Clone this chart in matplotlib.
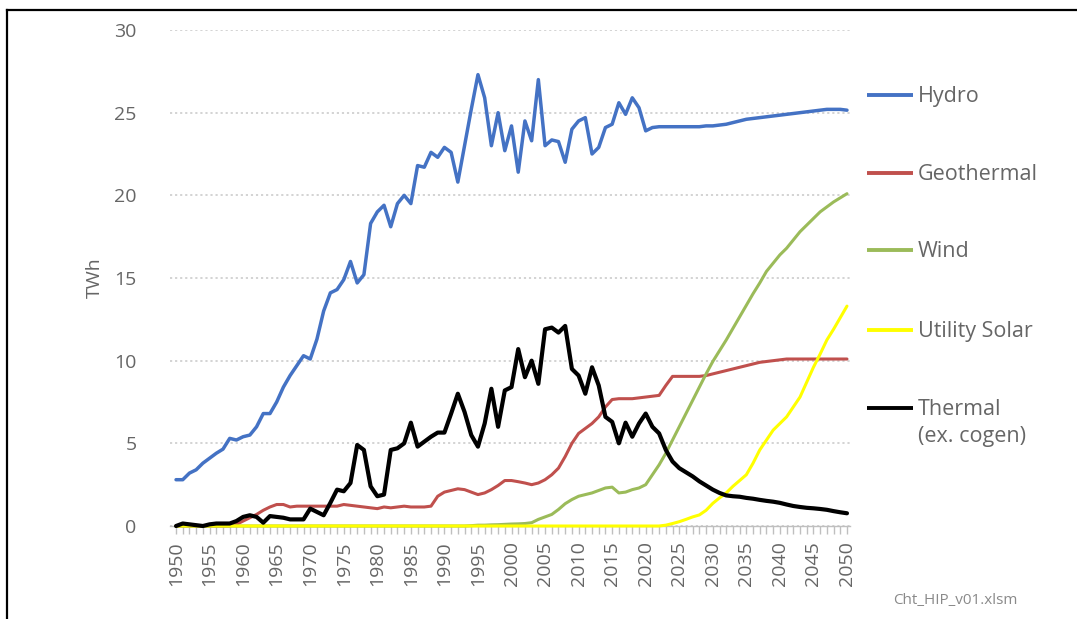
import matplotlib
matplotlib.use("Agg")
import matplotlib.pyplot as plt
from matplotlib.lines import Line2D
from matplotlib.ticker import MultipleLocator

plt.rcParams["font.family"] = ["Open Sans", "DejaVu Sans"]

# Annual generation, TWh, 1950-2050
years = list(range(1950, 2051))

hydro = [
    2.8, 2.8, 3.2, 3.4, 3.8, 4.1, 4.4, 4.65, 5.3, 5.2,            # 1950s
    5.4, 5.5, 6.0, 6.8, 6.8, 7.5, 8.4, 9.1, 9.7, 10.3,            # 1960s
    10.1, 11.3, 13.0, 14.1, 14.3, 14.9, 16.0, 14.7, 15.2, 18.3,   # 1970s
    19.0, 19.4, 18.1, 19.5, 20.0, 19.5, 21.8, 21.7, 22.6, 22.3,   # 1980s
    22.9, 22.6, 20.8, 23.0, 25.2, 27.3, 25.9, 23.0, 25.0, 22.7,   # 1990s
    24.2, 21.4, 24.5, 23.3, 27.0, 23.0, 23.35, 23.25, 22.0, 24.0, # 2000s
    24.5, 24.7, 22.5, 22.9, 24.1, 24.3, 25.6, 24.9, 25.9, 25.3,   # 2010s
    23.9, 24.1, 24.15, 24.15, 24.15, 24.15, 24.15, 24.15, 24.15, 24.2,  # 2020s
    24.2, 24.25, 24.3, 24.4, 24.5, 24.6, 24.65, 24.7, 24.75, 24.8,      # 2030s
    24.85, 24.9, 24.95, 25.0, 25.05, 25.1, 25.15, 25.2, 25.2, 25.2,     # 2040s
    25.15,                                                               # 2050
]

geothermal = [
    0.0, 0.0, 0.0, 0.0, 0.0, 0.0, 0.0, 0.0, 0.0, 0.1,
    0.3, 0.5, 0.7, 0.95, 1.15, 1.3, 1.3, 1.15, 1.2, 1.2,
    1.2, 1.2, 1.2, 1.2, 1.2, 1.3, 1.25, 1.2, 1.15, 1.1,
    1.05, 1.15, 1.1, 1.15, 1.2, 1.15, 1.15, 1.15, 1.2, 1.8,
    2.05, 2.15, 2.25, 2.2, 2.05, 1.9, 2.0, 2.2, 2.45, 2.75,
    2.75, 2.68, 2.6, 2.5, 2.6, 2.8, 3.1, 3.5, 4.2, 5.0,
    5.6, 5.9, 6.2, 6.6, 7.2, 7.65, 7.7, 7.7, 7.7, 7.75,
    7.8, 7.85, 7.9, 8.5, 9.05, 9.05, 9.05, 9.05, 9.05, 9.1,
    9.2, 9.3, 9.4, 9.5, 9.6, 9.7, 9.8, 9.9, 9.95, 10.0,
    10.05, 10.1, 10.1, 10.1, 10.1, 10.1, 10.1, 10.1, 10.1, 10.1,
    10.1,
]

wind = [
    0.0, 0.0, 0.0, 0.0, 0.0, 0.0, 0.0, 0.0, 0.0, 0.0,
    0.0, 0.0, 0.0, 0.0, 0.0, 0.0, 0.0, 0.0, 0.0, 0.0,
    0.0, 0.0, 0.0, 0.0, 0.0, 0.0, 0.0, 0.0, 0.0, 0.0,
    0.0, 0.0, 0.0, 0.0, 0.0, 0.0, 0.0, 0.0, 0.0, 0.0,
    0.0, 0.0, 0.0, 0.0, 0.02, 0.05, 0.05, 0.07, 0.08, 0.1,
    0.12, 0.13, 0.15, 0.2, 0.4, 0.55, 0.7, 1.0, 1.35, 1.6,
    1.8, 1.9, 2.0, 2.15, 2.3, 2.35, 2.0, 2.05, 2.2, 2.3,
    2.5, 3.1, 3.7, 4.4, 5.2, 6.0, 6.8, 7.6, 8.4, 9.2,
    9.95, 10.6, 11.25, 11.95, 12.65, 13.35, 14.05, 14.7, 15.4, 15.9,
    16.4, 16.8, 17.3, 17.8, 18.2, 18.6, 19.0, 19.3, 19.6, 19.85,
    20.1,
]

utility_solar = [
    0.0, 0.0, 0.0, 0.0, 0.0, 0.0, 0.0, 0.0, 0.0, 0.0,
    0.0, 0.0, 0.0, 0.0, 0.0, 0.0, 0.0, 0.0, 0.0, 0.0,
    0.0, 0.0, 0.0, 0.0, 0.0, 0.0, 0.0, 0.0, 0.0, 0.0,
    0.0, 0.0, 0.0, 0.0, 0.0, 0.0, 0.0, 0.0, 0.0, 0.0,
    0.0, 0.0, 0.0, 0.0, 0.0, 0.0, 0.0, 0.0, 0.0, 0.0,
    0.0, 0.0, 0.0, 0.0, 0.0, 0.0, 0.0, 0.0, 0.0, 0.0,
    0.0, 0.0, 0.0, 0.0, 0.0, 0.0, 0.0, 0.0, 0.0, 0.0,
    0.0, 0.0, 0.0, 0.05, 0.15, 0.26, 0.4, 0.55, 0.67, 0.95,
    1.37, 1.7, 2.0, 2.4, 2.75, 3.1, 3.8, 4.6, 5.2, 5.8,
    6.2, 6.6, 7.2, 7.8, 8.7, 9.6, 10.4, 11.25, 11.9, 12.6,
    13.3,
]

thermal = [
    0.0, 0.15, 0.1, 0.05, 0.0, 0.1, 0.15, 0.15, 0.15, 0.3,
    0.55, 0.65, 0.55, 0.2, 0.6, 0.55, 0.5, 0.4, 0.4, 0.4,
    1.05, 0.85, 0.65, 1.4, 2.2, 2.1, 2.6, 4.9, 4.6, 2.4,
    1.8, 1.9, 4.6, 4.7, 5.0, 6.25, 4.8, 5.1, 5.4, 5.65,
    5.65, 6.8, 8.0, 6.9, 5.5, 4.8, 6.2, 8.3, 6.0, 8.2,
    8.4, 10.7, 9.0, 10.0, 8.6, 11.9, 12.0, 11.7, 12.1, 9.5,
    9.1, 8.0, 9.6, 8.5, 6.6, 6.3, 5.0, 6.25, 5.4, 6.2,
    6.8, 6.0, 5.6, 4.6, 3.9, 3.5, 3.25, 3.0, 2.7, 2.45,
    2.2, 2.0, 1.85, 1.8, 1.77, 1.7, 1.65, 1.58, 1.52, 1.47,
    1.4, 1.3, 1.21, 1.15, 1.1, 1.07, 1.03, 0.98, 0.9, 0.83,
    0.77,
]

series_labels = ["Hydro", "Geothermal", "Wind", "Utility Solar", "Thermal\n(ex. cogen)"]
series_values = [hydro, geothermal, wind, utility_solar, thermal]
series_colors = ["#4472C4", "#C0504D", "#9BBB59", "#FFFF00", "#000000"]
series_widths = [2.5, 2.2, 2.2, 2.2, 3.0]

W, H = 1077, 619
fig = plt.figure(figsize=(W / 100, H / 100), dpi=100)
fig.patch.set_facecolor("white")

ax = fig.add_axes([170 / W, 1 - 526 / H, (850 - 170) / W, (526 - 30) / H])
ax.set_xlim(1949.1, 2050.45)
ax.set_ylim(0, 30)

for z, (vals, col, lw) in enumerate(zip(series_values, series_colors, series_widths)):
    ax.plot(years, vals, color=col, lw=lw, solid_joinstyle="round",
            solid_capstyle="round", clip_on=False, zorder=3 + z)

# axes styling
for side in ("left", "right", "top"):
    ax.spines[side].set_visible(False)
ax.spines["bottom"].set_color("#bfbfbf")
ax.spines["bottom"].set_linewidth(1.0)
ax.spines["bottom"].set_zorder(2)

ax.yaxis.set_major_locator(MultipleLocator(5))
ax.yaxis.grid(True, color="#d0d0d0", linestyle=(0, (1.2, 1.6)), lw=1.3)
ax.set_axisbelow(True)
ax.tick_params(axis="y", length=0, pad=24, labelsize=14, labelcolor="#666666")

ax.set_xticks(years[::5])
ax.set_xticklabels([str(y) for y in years[::5]], rotation=90)
ax.xaxis.set_minor_locator(MultipleLocator(1))
ax.tick_params(axis="x", which="both", length=6, color="#bfbfbf", width=1.0)
ax.tick_params(axis="x", which="major", pad=5, labelsize=14, labelcolor="#666666")

fig.text(95 / W, 1 - 278 / H, "TWh", rotation=90, ha="center", va="center",
         fontsize=14, color="#666666")

# legend on the right
legend_y = [95, 173, 250, 330, 408]
for lab, col, y in zip(series_labels, series_colors, legend_y):
    fig.add_artist(Line2D([867 / W, 913 / W], [1 - y / H, 1 - y / H],
                          color=col, lw=2.8, solid_capstyle="butt"))
    fig.text(918 / W, 1 - (y - 9) / H, lab, ha="left", va="top",
             fontsize=15.5, color="#666666", linespacing=1.4)

fig.text(893 / W, 1 - 600 / H, "Cht_HIP_v01.xlsm", ha="left", va="center",
         fontsize=11, color="#8a8a8a")

# frame edges
fig.add_artist(Line2D([7 / W, 7 / W], [0, 1 - 10 / H], color="black", lw=1.6))
fig.add_artist(Line2D([7 / W, 1], [1 - 10 / H, 1 - 10 / H], color="black", lw=1.6))

fig.savefig("out.png", dpi=100, facecolor="white")
